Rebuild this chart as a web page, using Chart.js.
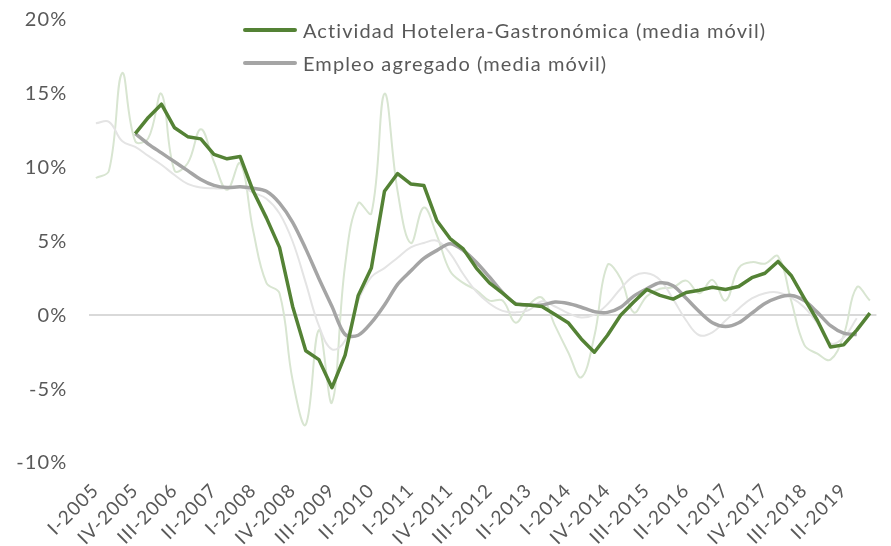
<!DOCTYPE html>
<html><head><meta charset="utf-8">
<script src="https://cdn.jsdelivr.net/npm/chart.js@4.4.0/dist/chart.umd.min.js"></script>
<style>
html,body{margin:0;padding:0;overflow:hidden;background:#fff;width:891px;height:546px;}
#wrap{position:relative;width:894px;height:546px;overflow:hidden;}
#c{position:absolute;left:0;top:-14px;}
#legend{position:absolute;left:243px;top:13px;font-family:Lato,"Open Sans",sans-serif;font-size:20px;letter-spacing:1.1px;color:#595959;}
.item{display:flex;align-items:center;height:33px;white-space:nowrap;}
.sw{width:54px;height:4px;border-radius:2px;margin-right:6px;}
</style></head>
<body><div id="wrap"><canvas id="c" width="894" height="560"></canvas><div id="legend"></div></div>
<script>
const categories = [
 "I-2005","II-2005","III-2005","IV-2005","I-2006","II-2006","III-2006","IV-2006",
 "I-2007","II-2007","III-2007","IV-2007","I-2008","II-2008","III-2008","IV-2008",
 "I-2009","II-2009","III-2009","IV-2009","I-2010","II-2010","III-2010","IV-2010",
 "I-2011","II-2011","III-2011","IV-2011","I-2012","II-2012","III-2012","IV-2012",
 "I-2013","II-2013","III-2013","IV-2013","I-2014","II-2014","III-2014","IV-2014",
 "I-2015","II-2015","III-2015","IV-2015","I-2016","II-2016","III-2016","IV-2016",
 "I-2017","II-2017","III-2017","IV-2017","I-2018","II-2018","III-2018","IV-2018",
 "I-2019","II-2019","III-2019","IV-2019"];

const seriesNames = ["Actividad Hotelera-Gastronómica (media móvil)", "Empleo agregado (media móvil)"];

const hotelMovingAvg = [null,null,null,12.3,13.4,14.3,12.7,12.1,11.95,10.9,10.6,10.75,8.4,6.6,4.6,0.6,-2.4,-3.0,-4.9,-2.7,1.35,3.2,8.4,9.6,8.9,8.8,6.4,5.2,4.5,3.2,2.2,1.5,0.75,0.7,0.6,0.05,-0.5,-1.6,-2.5,-1.35,0.0,0.9,1.75,1.35,1.1,1.55,1.7,1.9,1.75,1.95,2.55,2.85,3.65,2.7,1.15,-0.35,-2.15,-2.0,-1.0,0.15];

const employmentMovingAvg = [null,null,null,12.3,11.6,11.0,10.4,9.8,9.2,8.8,8.65,8.7,8.6,8.4,7.6,6.3,4.5,2.5,0.6,-1.3,-1.35,-0.5,0.7,2.1,3.0,3.85,4.4,4.85,4.4,3.6,2.6,1.55,0.8,0.7,0.7,0.9,0.8,0.55,0.25,0.2,0.55,1.3,1.8,2.2,2.0,1.15,0.25,-0.5,-0.75,-0.5,0.15,0.8,1.2,1.35,1.0,0.2,-0.7,-1.2,-1.3,null];

const hotelQuarterly = [9.3,9.8,16.4,11.8,12.0,15.0,9.8,10.3,12.6,10.4,8.5,10.3,5.7,2.2,1.5,-4.4,-7.4,-1.0,-5.9,3.4,7.6,6.9,15.0,8.4,4.9,7.3,5.4,3.0,2.2,1.7,1.0,1.0,-0.5,0.7,1.2,-0.7,-2.5,-4.2,-1.4,3.4,2.5,0.2,1.3,1.8,1.9,2.35,1.5,2.4,1.0,3.2,3.6,3.5,4.0,1.0,-2.0,-2.6,-3.0,-1.35,1.9,1.0];

const employmentQuarterly = [13.0,13.1,11.8,11.4,10.8,10.2,9.5,8.9,8.65,8.6,8.6,8.7,8.3,7.9,6.9,5.0,2.2,-0.7,-2.3,-1.7,1.0,2.6,3.2,3.9,4.6,4.9,5.05,4.2,2.8,1.6,0.8,0.3,0.2,0.35,0.95,0.6,0.15,-0.15,0.05,0.75,1.8,2.65,2.85,2.4,1.1,-0.35,-1.35,-1.15,-0.35,0.45,1.15,1.5,1.55,1.2,0.55,-0.55,-1.9,-1.5,-0.2,null];

const yTicks = [-10,-5,0,5,10,15,20];

const GREEN = '#548235', GREY = '#a5a5a5';
const TXT = '#595959';
const FONT = 'Lato, "Open Sans", sans-serif';

// HTML legend
const legendEl = document.getElementById('legend');
[[seriesNames[0], GREEN],[seriesNames[1], GREY]].forEach(([name,col])=>{
  const it = document.createElement('div'); it.className='item';
  const sw = document.createElement('span'); sw.className='sw'; sw.style.background=col;
  const tx = document.createElement('span'); tx.textContent = name;
  it.appendChild(sw); it.appendChild(tx); legendEl.appendChild(it);
});

const spacingPlugin = {
  id: 'spacing',
  beforeDraw(chart){ try { chart.ctx.letterSpacing = '1.1px'; } catch(e){} }
};

new Chart(document.getElementById('c'), {
  type: 'line',
  data: {
    labels: categories,
    datasets: [
      {label: seriesNames[0], data: hotelMovingAvg, borderColor: GREEN, borderWidth: 3.5, tension: 0, pointRadius: 0, order: 0, borderJoinStyle:'round'},
      {label: seriesNames[1], data: employmentMovingAvg, borderColor: GREY, borderWidth: 3.5, tension: 0.3, pointRadius: 0, order: 1, borderJoinStyle:'round'},
      {label: 'Actividad Hotelera-Gastronómica', data: hotelQuarterly, borderColor: '#d8e5d1', borderWidth: 2, tension: 0.4, pointRadius: 0, order: 3},
      {label: 'Empleo agregado', data: employmentQuarterly, borderColor: '#e4e4e4', borderWidth: 2, tension: 0.4, pointRadius: 0, order: 2}
    ]
  },
  plugins: [spacingPlugin],
  options: {
    responsive: false,
    animation: false,
    devicePixelRatio: 1,
    layout: {padding: {top: 5, right: 0, left: 0, bottom: 0}},
    plugins: {legend: {display: false}, tooltip: {enabled: false}},
    scales: {
      x: {
        type: 'category',
        offset: true,
        grid: {display: false},
        border: {display: false},
        afterFit: s => { s.height = 83; },
        ticks: {
          autoSkip: false, minRotation: 45, maxRotation: 45,
          color: TXT, font: {family: FONT, size: 19}, padding: 8,
          callback: function(v, i){ return i % 3 === 0 ? categories[i] : ''; }
        }
      },
      y: {
        min: -10, max: 20,
        afterFit: s => { s.width = 89.3; },
        afterBuildTicks: s => { s.ticks = yTicks.map(v => ({value: v})); },
        border: {display: false},
        grid: {
          drawTicks: false,
          lineWidth: 2,
          color: ctx => (ctx.tick && ctx.tick.value === 0) ? '#d9d9d9' : 'rgba(0,0,0,0)'
        },
        ticks: {
          color: TXT, font: {family: FONT, size: 20}, padding: 22,
          callback: v => v + '%'
        }
      }
    }
  }
});
</script>
</body></html>
